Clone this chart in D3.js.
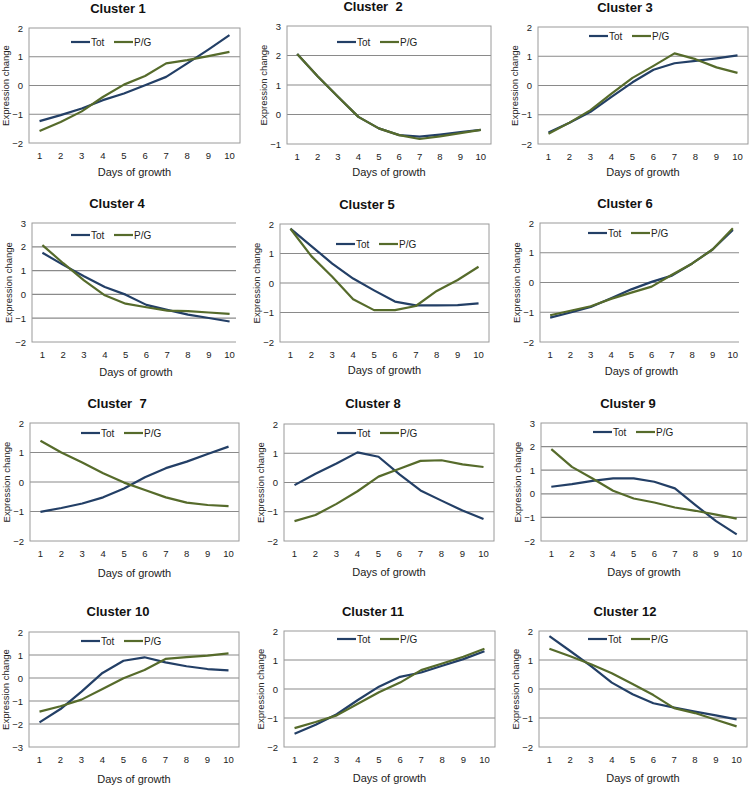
<!DOCTYPE html>
<html><head><meta charset="utf-8">
<script src="https://cdn.jsdelivr.net/npm/d3@7"></script>
<style>
body{margin:0;background:#fff;}
svg{display:block;font-family:"Liberation Sans",Arial,sans-serif;}
</style></head>
<body>
<svg id="c" width="750" height="786"></svg>
<script>
const days = ["1","2","3","4","5","6","7","8","9","10"];
const seriesNames = ["Tot","P/G"];
const titles = ["Cluster 1","Cluster  2","Cluster 3","Cluster 4","Cluster 5","Cluster 6","Cluster  7","Cluster 8","Cluster 9","Cluster 10","Cluster 11","Cluster 12"];
const yDomains = [[-2,2],[-1,3],[-2,2],[-2,3],[-2,2],[-2,2],[-2,2],[-2,2],[-2,3],[-3,2],[-2,2],[-2,2]];
const totValues = [
  [-1.24,-1.03,-0.80,-0.51,-0.28,0.01,0.30,0.77,1.25,1.75],
  [2.05,1.30,0.60,-0.08,-0.47,-0.70,-0.75,-0.68,-0.60,-0.52],
  [-1.61,-1.27,-0.90,-0.39,0.11,0.54,0.76,0.84,0.93,1.03],
  [1.75,1.24,0.76,0.31,-0.01,-0.44,-0.65,-0.85,-0.99,-1.14],
  [1.84,1.25,0.66,0.15,-0.25,-0.63,-0.76,-0.76,-0.75,-0.69],
  [-1.18,-1.01,-0.82,-0.53,-0.23,0.02,0.23,0.64,1.11,1.77],
  [-1.01,-0.88,-0.73,-0.52,-0.22,0.16,0.47,0.69,0.95,1.20],
  [-0.09,0.30,0.65,1.03,0.88,0.28,-0.27,-0.62,-0.96,-1.25],
  [0.30,0.41,0.55,0.65,0.65,0.51,0.23,-0.48,-1.16,-1.72],
  [-1.93,-1.35,-0.59,0.22,0.75,0.90,0.68,0.51,0.39,0.33],
  [-1.54,-1.23,-0.87,-0.38,0.08,0.42,0.57,0.80,1.03,1.30],
  [1.82,1.31,0.79,0.22,-0.18,-0.49,-0.64,-0.78,-0.91,-1.05]
];
const pgValues = [
  [-1.58,-1.27,-0.90,-0.40,0.03,0.33,0.77,0.88,1.02,1.17],
  [2.05,1.30,0.60,-0.08,-0.47,-0.70,-0.83,-0.74,-0.63,-0.52],
  [-1.65,-1.27,-0.84,-0.28,0.26,0.67,1.10,0.90,0.62,0.43],
  [2.07,1.31,0.59,-0.04,-0.39,-0.54,-0.68,-0.70,-0.76,-0.82],
  [1.84,0.91,0.21,-0.55,-0.92,-0.92,-0.78,-0.27,0.10,0.55],
  [-1.10,-0.95,-0.80,-0.55,-0.34,-0.14,0.26,0.64,1.11,1.82],
  [1.40,1.00,0.66,0.30,-0.02,-0.27,-0.52,-0.70,-0.78,-0.82],
  [-1.32,-1.11,-0.73,-0.30,0.20,0.47,0.74,0.76,0.62,0.53],
  [1.89,1.14,0.65,0.13,-0.20,-0.37,-0.58,-0.72,-0.88,-1.05],
  [-1.46,-1.23,-0.94,-0.48,-0.01,0.35,0.83,0.91,0.97,1.07],
  [-1.35,-1.14,-0.91,-0.51,-0.11,0.22,0.65,0.88,1.11,1.39],
  [1.39,1.13,0.85,0.54,0.17,-0.21,-0.66,-0.83,-1.06,-1.29]
];
// layout: plot box [left,right,top,bottom], visible clip right, legend x/y, title x/y, x-label y
const layout = [
  {L:29,R:240,T:28,B:143,clip:241,lx:71,ly:42,tx:118,ty:13,xl:176},
  {L:287,R:491,T:26,B:144,clip:492,lx:337,ly:42,tx:373,ty:11,xl:176},
  {L:538,R:748,T:27,B:144,clip:749,lx:589,ly:36,tx:625,ty:12,xl:176},
  {L:32,R:240,T:223,B:342,clip:236,lx:71,ly:235,tx:117,ty:208,xl:376},
  {L:280,R:489,T:224,B:342,clip:490,lx:336,ly:244,tx:367,ty:209,xl:374},
  {L:540,R:743,T:223,B:342,clip:739,lx:588,ly:233,tx:625,ty:208,xl:375},
  {L:30,R:239,T:423,B:541,clip:240,lx:81,ly:433,tx:117,ty:408,xl:577},
  {L:284,R:494,T:424,B:541,clip:495,lx:337,ly:433,tx:373,ty:408,xl:576},
  {L:541,R:747,T:423,B:541,clip:748,lx:593,ly:432,tx:628,ty:408,xl:576},
  {L:29,R:239,T:632,B:747,clip:240,lx:81,ly:641,tx:118,ty:616,xl:783},
  {L:284,R:495,T:631,B:747,clip:496,lx:337,ly:639,tx:373,ty:616,xl:782},
  {L:539,R:747,T:631,B:747,clip:748,lx:588,ly:639,tx:625,ty:616,xl:782}
];
const colors = {"Tot":"#233f66","P/G":"#566b2b"};
const gridColor = "#8a8a8a";

const svg = d3.select("#c");
const defs = svg.append("defs");

layout.forEach((p,i)=>{
  const g = svg.append("g");
  const x = d3.scaleBand().domain(days).range([p.L,p.R]);
  const [ymin,ymax] = yDomains[i];
  const y = d3.scaleLinear().domain([ymin,ymax]).range([p.B,p.T]);
  const cid = "clip"+i;
  defs.append("clipPath").attr("id",cid).append("rect")
    .attr("x",0).attr("y",p.T-5).attr("width",p.clip).attr("height",p.B-p.T+10);

  const pg = g.append("g").attr("clip-path","url(#"+cid+")");
  // gridlines
  const ticks = d3.range(ymin,ymax+1);
  pg.selectAll("line.grid").data(ticks.slice(1,-1)).join("line")
    .attr("x1",p.L).attr("x2",p.R).attr("y1",d=>y(d)).attr("y2",d=>y(d))
    .attr("stroke",gridColor).attr("stroke-width",1.2);
  // box
  pg.append("rect").attr("x",p.L).attr("y",p.T).attr("width",p.R-p.L).attr("height",p.B-p.T)
    .attr("fill","none").attr("stroke","#9a9a9a").attr("stroke-width",1);

  // y tick labels
  const yAxis = d3.axisLeft(y).tickValues(ticks).tickSize(0).tickPadding(6).tickFormat(d3.format("d"));
  const ya = g.append("g").attr("transform",`translate(${p.L},0)`).call(yAxis);
  ya.select(".domain").remove();
  ya.selectAll("text").attr("font-size","9.5px").attr("fill","#222").attr("font-family","Liberation Sans, Arial, sans-serif");
  // x tick labels
  const xAxis = d3.axisBottom(x).tickSize(0).tickPadding(9);
  const xa = g.append("g").attr("transform",`translate(0,${p.B})`).call(xAxis);
  xa.select(".domain").remove();
  xa.selectAll("text").attr("font-size","9.5px").attr("fill","#222").attr("font-family","Liberation Sans, Arial, sans-serif");

  // lines
  const line = d3.line().x((d,j)=>x(days[j])+x.bandwidth()/2).y(d=>y(d));
  [["Tot",totValues[i]],["P/G",pgValues[i]]].forEach(([name,vals])=>{
    pg.append("path").datum(vals).attr("d",line).attr("fill","none")
      .attr("stroke",colors[name]).attr("stroke-width",2.2).attr("stroke-linejoin","round");
  });

  // legend
  const lg = g.append("g");
  const offs = [0,43];
  seriesNames.forEach((name,k)=>{
    const lx = p.lx + offs[k];
    lg.append("line").attr("x1",lx).attr("x2",lx+19).attr("y1",p.ly).attr("y2",p.ly)
      .attr("stroke",colors[name]).attr("stroke-width",2.2);
    lg.append("text").attr("x",lx+20).attr("y",p.ly+3.5).attr("font-size","10px").attr("fill","#222").text(name);
  });

  // title
  g.append("text").attr("x",p.tx).attr("y",p.ty).attr("text-anchor","middle")
    .attr("font-size","13px").attr("font-weight","bold").attr("fill","#111")
    .style("white-space","pre").text(titles[i]);
  // x label
  g.append("text").attr("x",(p.L+p.R)/2).attr("y",p.xl).attr("text-anchor","middle")
    .attr("font-size","11px").attr("fill","#222").text("Days of growth");
  // y label
  const ycx = p.L-24, ycy=(p.T+p.B)/2;
  g.append("text").attr("transform",`translate(${ycx+3.5},${ycy}) rotate(-90)`)
    .attr("text-anchor","middle").attr("font-size","9.5px").attr("fill","#222").text("Expression change");
});
</script>
</body></html>
